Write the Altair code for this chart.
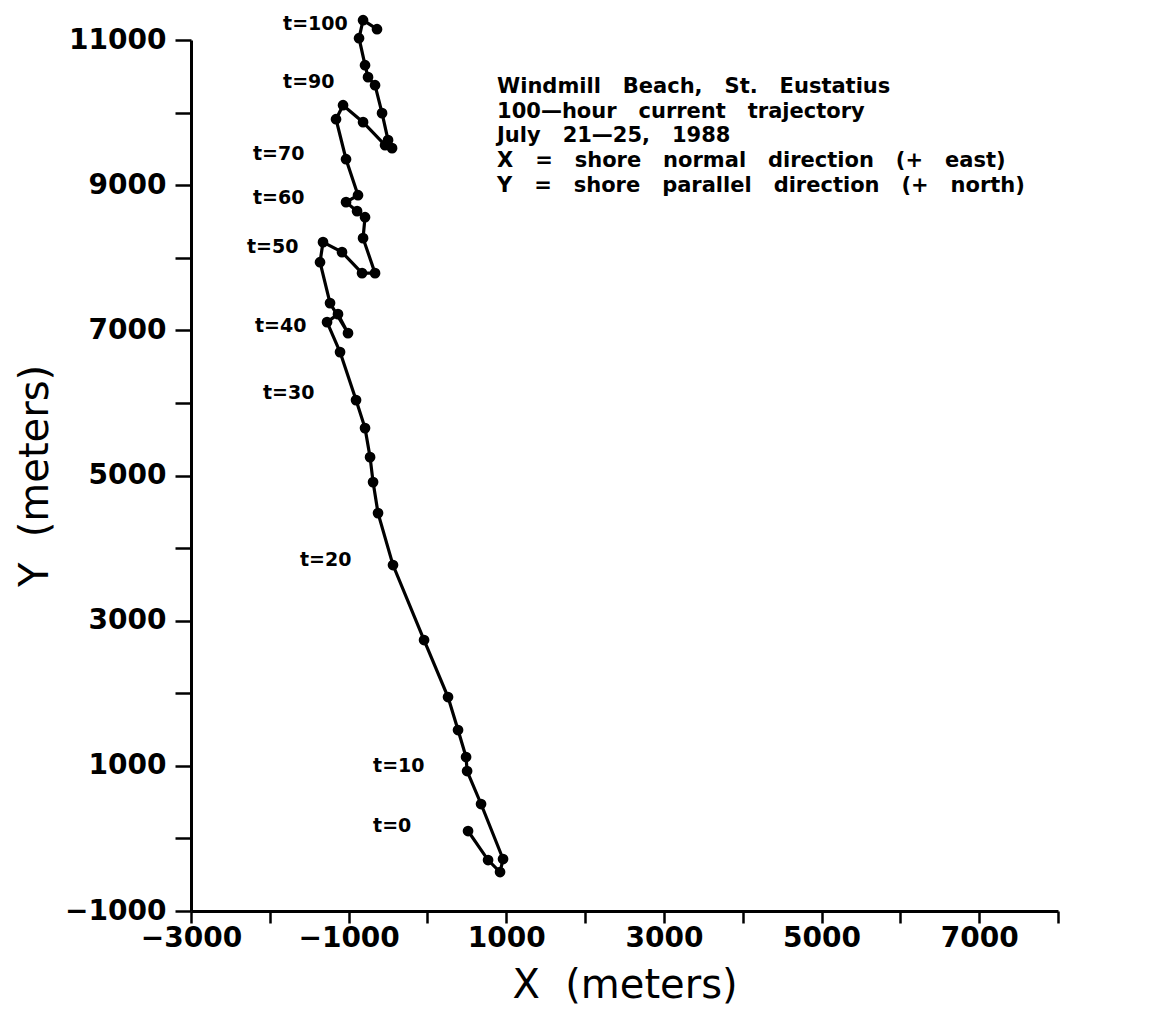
import altair as alt
import pandas as pd

# Trajectory (meters), in time order from t=0
x_vals = [515, 769, 921, 959, 680, 503, 490, 388, 261, -43,
          -437, -627, -690, -728, -792, -906, -1109, -1274, -1135, -1008,
          -1236, -1363, -1325, -1084, -830, -665, -817, -792, -893, -1033,
          -881, -1033, -1160, -1071, -817, -538, -449, -500, -576, -665,
          -754, -792, -868, -817, -640]
y_vals = [102, -298, -463, -284, 474, 928, 1121, 1493, 1948, 2733,
          3766, 4482, 4909, 5253, 5653, 6039, 6700, 7113, 7223, 6961,
          7375, 7939, 8215, 8077, 7788, 7788, 8270, 8559, 8642, 8766,
          8862, 9358, 9909, 10102, 9868, 9551, 9510, 9620, 9992, 10377,
          10488, 10653, 11025, 11273, 11149]

# Time labels
t_labels = ["t=0", "t=10", "t=20", "t=30", "t=40", "t=50", "t=60", "t=70", "t=90", "t=100"]
t_label_x = [-690, -690, -1617, -2086, -2188, -2289, -2213, -2213, -1832, -1832]
t_label_y = [171, 997, 3835, 6135, 7058, 8146, 8821, 9427, 10419, 11218]

# Annotation block
S = "\u00a0\u00a0 "
note_lines = [
    S.join(["Windmill", "Beach,", "St.", "Eustatius"]),
    S.join(["100\u2014hour", "current", "trajectory"]),
    S.join(["July", "21\u201425,", "1988"]),
    S.join(["X", "=", "shore", "normal", "direction", "(+", "east)"]),
    S.join(["Y", "=", "shore", "parallel", "direction", "(+", "north)"]),
]
note_x = [883]
note_y = [10270]

x_ticks = list(range(-3000, 8001, 1000))
y_ticks = list(range(-1000, 11001, 1000))

traj = pd.DataFrame({"x": x_vals, "y": y_vals, "i": list(range(len(x_vals)))})
labels = pd.DataFrame({"x": t_label_x, "y": t_label_y, "t": t_labels})
note = pd.DataFrame({"x": note_x, "y": note_y})

xs = alt.Scale(domain=[-3000, 8000], nice=False, zero=False)
ys = alt.Scale(domain=[-1000, 11000], nice=False, zero=False)

x_axis = alt.Axis(
    values=x_ticks,
    labelExpr="datum.value % 2000 == 0 ? '' : format(datum.value, 'd')",
    title="X\u00a0\u00a0(meters)",
    tickSize=12, labelPadding=1, labelOverlap=False, labelFlush=False,
    titleX=433.5, titleY=74, titleAlign="center", titleBaseline="middle",
)
y_axis = alt.Axis(
    values=y_ticks,
    labelExpr="datum.value % 2000 == 0 ? '' : format(datum.value, 'd')",
    title="Y\u00a0\u00a0(meters)",
    tickSize=16, labelPadding=9, labelOverlap=False, labelFlush=False,
    titleX=-156, titleY=435.5, titleAngle=270, titleAlign="center", titleBaseline="middle",
)

X = alt.X("x:Q", scale=xs, axis=x_axis)
Y = alt.Y("y:Q", scale=ys, axis=y_axis)

line = alt.Chart(traj).mark_line(color="black", strokeWidth=3.2).encode(x=X, y=Y, order="i:Q")
pts = alt.Chart(traj).mark_circle(color="black", size=115, opacity=1).encode(x=X, y=Y)
tl = alt.Chart(labels).mark_text(
    align="left", baseline="middle", font="DejaVu Sans", fontWeight="bold", fontSize=19, color="black"
).encode(x=X, y=Y, text="t:N")
nt = alt.Chart(note).mark_text(
    align="left", baseline="alphabetic", font="DejaVu Sans", fontWeight="bold", fontSize=21,
    lineHeight=24.7, color="black"
).encode(x=X, y=Y, text=alt.value(note_lines))

chart = alt.layer(line, pts, tl, nt).properties(
    width=867, height=871,
    autosize=alt.AutoSizeParams(type="none"),
    padding={"left": 191, "top": 40, "right": 98, "bottom": 98},
).configure_view(stroke="transparent").configure_axis(
    grid=False,
    domainColor="black", domainWidth=3,
    tickColor="black", tickWidth=2.5,
    labelFont="DejaVu Sans", labelFontWeight="bold", labelFontSize=28, labelColor="black",
    titleFont="DejaVu Sans", titleFontWeight="normal", titleFontSize=40, titleColor="black",
)

chart.save("out.html", embed_options={"renderer": "svg", "actions": False})
